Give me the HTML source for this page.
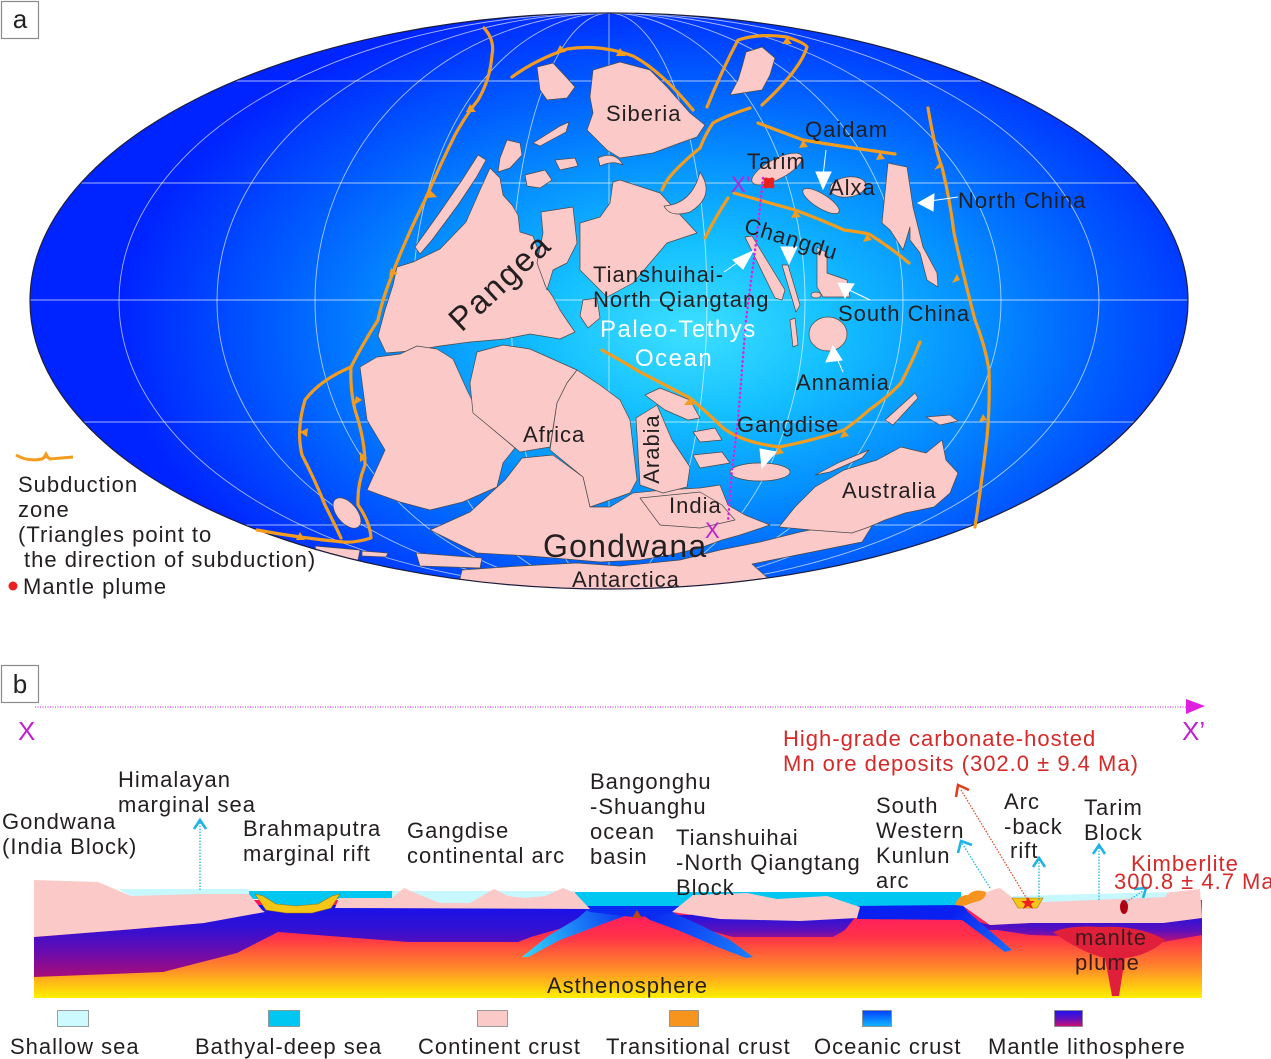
<!DOCTYPE html>
<html><head><meta charset="utf-8"><style>
html,body{margin:0;padding:0;background:#fff;}
svg{display:block;}
text{font-family:"Liberation Sans",Arial,sans-serif;}
</style></head><body>
<svg width="1271" height="1059" viewBox="0 0 1271 1059" xmlns="http://www.w3.org/2000/svg">
<defs>
<radialGradient id="ocean" gradientUnits="userSpaceOnUse" cx="690" cy="330" r="570" gradientTransform="translate(690,330) scale(1,0.6) translate(-690,-330)">
<stop offset="0" stop-color="#3ee0ff"/><stop offset="0.25" stop-color="#14c0ff"/><stop offset="0.5" stop-color="#0590ff"/><stop offset="0.75" stop-color="#0058ff"/><stop offset="1" stop-color="#0024ff"/>
</radialGradient>
<clipPath id="ell"><ellipse cx="609" cy="301" rx="579" ry="288"/></clipPath>
<linearGradient id="asth" gradientUnits="userSpaceOnUse" x1="0" y1="905" x2="0" y2="998">
<stop offset="0" stop-color="#ff1466"/><stop offset="0.35" stop-color="#ff3348"/><stop offset="0.68" stop-color="#ff8a2a"/><stop offset="1" stop-color="#fff000"/>
</linearGradient>
<linearGradient id="lith" gradientUnits="userSpaceOnUse" x1="0" y1="906" x2="0" y2="977">
<stop offset="0" stop-color="#1812ea"/><stop offset="0.3" stop-color="#3010d4"/><stop offset="0.65" stop-color="#6a0cae"/><stop offset="1" stop-color="#a80c78"/>
</linearGradient>
<linearGradient id="lith2" gradientUnits="userSpaceOnUse" x1="0" y1="915" x2="0" y2="942">
<stop offset="0" stop-color="#2212e0"/><stop offset="0.6" stop-color="#6010b8"/><stop offset="1" stop-color="#c01070"/>
</linearGradient>
<linearGradient id="slabL" gradientUnits="userSpaceOnUse" x1="630" y1="912" x2="523" y2="957">
<stop offset="0" stop-color="#0a30f0"/><stop offset="1" stop-color="#30d8ff"/>
</linearGradient>
<linearGradient id="slabR" gradientUnits="userSpaceOnUse" x1="650" y1="912" x2="752" y2="957">
<stop offset="0" stop-color="#0a28f0"/><stop offset="1" stop-color="#1a80ff"/>
</linearGradient>
<linearGradient id="slabK" gradientUnits="userSpaceOnUse" x1="960" y1="905" x2="1012" y2="950">
<stop offset="0" stop-color="#0a20f0"/><stop offset="1" stop-color="#1a6cff"/>
</linearGradient>
<linearGradient id="legOc" x1="0" y1="0" x2="0" y2="1"><stop offset="0" stop-color="#0040ff"/><stop offset="1" stop-color="#10b8ff"/></linearGradient>
<linearGradient id="legML" x1="0" y1="0" x2="0" y2="1"><stop offset="0" stop-color="#2010f0"/><stop offset="0.5" stop-color="#6010c0"/><stop offset="1" stop-color="#d01070"/></linearGradient>
</defs>

<!-- PANEL A -->
<rect x="1.5" y="1.5" width="37" height="37" fill="#fff" stroke="#8a8a8a" stroke-width="1.2"/>
<text x="20" y="28" font-size="26" text-anchor="middle" fill="#222">a</text>

<ellipse cx="609" cy="301" rx="579" ry="288" fill="url(#ocean)"/>
<g clip-path="url(#ell)" fill="none" stroke="#ffffff" stroke-opacity="0.65" stroke-width="0.9">
<line x1="0" y1="81" x2="1271" y2="81"/>
<line x1="0" y1="183" x2="1271" y2="183"/>
<line x1="0" y1="300" x2="1271" y2="300"/>
<line x1="0" y1="422" x2="1271" y2="422"/>
<line x1="0" y1="525" x2="1271" y2="525"/>
<line x1="609" y1="0" x2="609" y2="600"/>
<ellipse cx="609" cy="301" rx="98" ry="288"/>
<ellipse cx="609" cy="301" rx="196" ry="288"/>
<ellipse cx="609" cy="301" rx="294" ry="288"/>
<ellipse cx="609" cy="301" rx="392" ry="288"/>
<ellipse cx="609" cy="301" rx="490" ry="288"/>
</g>

<g clip-path="url(#ell)" fill="#fac9c8" stroke="#4a4a4a" stroke-width="0.7" stroke-linejoin="round">
<polygon points="490,168 500,178 503,195 512,205 518,215 520,232 533,236 538,250 540,268 545,285 553,297 560,310 568,322 575,332 560,339 530,334 505,339 470,342 440,346 410,351 386,353 378,336 385,310 393,285 397,267 413,262 440,249 466,222 480,190"/>
<polygon points="478,155 486,160 476,178 458,205 432,240 420,254 415,247 440,212 462,180"/>
<polygon points="507,140 520,143 522,155 510,168 498,172 500,158"/>
<polygon points="541,212 573,207 577,243 567,263 553,270 547,290 537,263 543,233"/>
<polygon points="613,182 620,180 660,193 697,233 667,243 650,263 633,283 607,297 593,283 580,270 580,223 600,217 610,203"/>
<polygon points="525,175 545,170 552,180 540,188 527,186"/>
<polygon points="555,160 575,158 578,166 560,170"/>
<polygon points="583,300 597,298 600,318 588,328 580,316"/>
<polygon points="360,367 377,357 400,354 417,346 437,349 453,359 467,390 477,410 490,427 515,448 503,463 497,487 463,502 430,510 400,502 367,490 385,450 367,420"/>
<polygon points="470,383 477,352 503,345 530,349 577,370 567,383 557,403 550,447 520,452 490,427 473,413"/>
<polygon points="577,370 600,385 620,400 630,420 637,480 630,493 590,507 583,477 550,450 557,403 567,383"/>
<polygon points="470,512 505,480 522,458 553,455 583,477 590,507 610,507 633,493 663,490 700,488 720,485 728,505 745,515 770,525 740,535 722,540 700,548 670,555 640,560 600,562 577,560 530,556 477,553 450,540 430,530"/>
<polygon points="636,418 657,405 672,440 690,467 687,487 663,493 640,485"/>
<polygon points="645,395 660,388 690,400 700,418 688,420 665,410"/>
<polygon points="693,432 715,428 722,440 700,442"/>
<polygon points="693,455 722,452 730,463 700,468"/>
<polygon points="462,570 520,566 577,563 620,566 680,560 720,550 760,542 800,532 840,524 872,526 862,542 822,550 782,558 752,564 770,580 780,600 455,600"/>
<polygon points="315,546 360,550 358,560 318,560"/>
<polygon points="362,551 388,553 386,557 362,556"/>
<polygon points="416,553 482,558 480,568 420,566"/>
<ellipse cx="347" cy="513" rx="18" ry="10" transform="rotate(50 347 513)"/>
<polygon points="593,70 620,62 650,70 667,87 690,113 705,125 697,137 680,143 653,153 620,158 607,150 587,130 593,113 590,97"/>
<polygon points="537,67 553,63 567,78 575,87 567,98 547,100 540,90"/>
<polygon points="533,143 560,126 569,122 566,132 540,146"/>
<polygon points="746,52 762,47 775,58 770,75 762,90 730,95 738,80 742,67"/>
<path d="M700,172 Q716,196 690,212 Q670,218 664,206 Q692,204 700,172 Z"/>
<path d="M598,158 Q615,150 623,165 Q612,160 600,166 Z"/>
<ellipse cx="777" cy="169" rx="28" ry="10" transform="rotate(-28 777 169)"/>
<ellipse cx="821" cy="201" rx="21" ry="7" transform="rotate(32 821 201)"/>
<ellipse cx="848" cy="187" rx="18" ry="10" transform="rotate(-8 848 187)"/>
<polygon points="888,163 907,167 913,207 923,247 937,273 938,287 927,280 920,253 910,240 910,227 903,250 890,230 882,223"/>
<polygon points="745,237 752,236 785,290 782,300 775,298"/>
<polygon points="782,265 788,265 800,305 796,312"/>
<polygon points="790,320 795,318 798,345 793,347"/>
<polygon points="817,247 827,253 827,273 847,280 850,297 823,297 817,287"/>
<ellipse cx="816" cy="295" rx="5" ry="3"/>
<ellipse cx="828" cy="334" rx="19" ry="17"/>
<ellipse cx="760" cy="472" rx="30" ry="9"/>
<polygon points="779,527 795,507 815,487 844,470 877,460 901,447 926,453 942,440 946,460 958,473 950,493 934,507 905,513 885,520 869,527 852,533 811,530"/>
<polygon points="815,475 840,462 869,450 862,458 830,472"/>
<polygon points="885,420 915,393 918,398 893,425"/>
<polygon points="926,417 950,415 958,421 940,425"/>
<polygon points="640,498 700,492 722,505 735,520 700,528 660,525"/>
</g>
<ellipse cx="609" cy="301" rx="579" ry="288" fill="none" stroke="#1c1c3c" stroke-width="1.2"/>

<g fill="none" stroke="#f39c1e" stroke-width="3.2" stroke-linecap="round" stroke-linejoin="round">
<path d="M484,28 Q495,40 492,55 Q490,80 478,100 Q466,115 455,135 Q440,165 425,200 Q405,240 392,275 Q382,300 378,320 Q362,345 351,367 Q350,390 355,410 Q365,440 365,465 Q357,485 358,505 Q370,522 371,538 Q355,543 343,542 Q300,538 257,530"/>
<path d="M351,367 Q320,380 305,400 Q296,430 302,455 Q315,480 325,505 Q335,525 341,538"/>
<path d="M512,77 Q535,60 567,49 Q600,44 633,56 Q660,70 693,110"/>
<path d="M707,107 Q722,70 738,40 Q760,33 787,37 Q805,43 807,47 Q800,70 762,105"/>
<path d="M750,108 Q725,116 713,123 Q705,135 700,148 Q685,160 673,173 Q665,182 662,190"/>
<path d="M758,123 Q790,135 803,140 Q832,145 895,154"/>
<path d="M734,193 Q770,203 795,210 Q822,220 844,230 Q860,232 869,234 Q890,247 909,263"/>
<path d="M728,198 Q715,218 705,238"/>
<path d="M928,108 Q935,150 942,167 Q950,200 954,233 Q962,270 975,320 Q985,345 989,370 Q990,405 987,437 Q982,480 975,527"/>
<path d="M602,350 Q620,360 640,372 Q665,385 690,398 Q710,415 722,427 Q740,442 779,447 Q815,440 844,430 Q858,420 869,410 Q890,395 901,383 Q912,362 920,342"/>
</g>
<g fill="#f39c1e">
<polygon points="470,104 476,112 466,112"/><polygon points="430,190 437,197 427,198"/><polygon points="391,268 398,274 389,276"/>
<polygon points="362,400 354,405 356,396"/><polygon points="367,458 360,462 360,452"/><polygon points="300,432 308,428 307,437"/>
<polygon points="560,45 566,52 556,53"/><polygon points="620,48 626,56 616,56"/><polygon points="787,37 792,44 782,44"/>
<polygon points="803,140 799,148 808,147"/><polygon points="880,152 876,160 885,159"/><polygon points="795,210 791,218 801,217"/>
<polygon points="867,234 863,242 872,240"/><polygon points="942,167 934,170 940,162"/><polygon points="960,280 952,283 957,274"/>
<polygon points="987,420 979,422 983,414"/><polygon points="690,398 684,405 694,405"/><polygon points="779,447 775,455 784,453"/>
<polygon points="844,430 840,438 849,436"/><polygon points="300,532 305,540 296,540"/>
</g>

<g stroke="#ffffff" stroke-width="1" fill="#ffffff">
<line x1="826" y1="150" x2="823" y2="176"/><polygon points="816,172 831,172 823,189"/>
<line x1="958" y1="197" x2="930" y2="201"/><polygon points="918,203 934,194 933,211"/>
<line x1="724" y1="272" x2="744" y2="258"/><polygon points="753,251 733,260 743,269"/>
<polygon points="781,247 797,247 789,264"/>
<line x1="870" y1="300" x2="845" y2="288"/><polygon points="838,283 854,284 845,298"/>
<line x1="843" y1="372" x2="834" y2="352"/><polygon points="833,346 826,362 842,360"/>
<polygon points="760,449 776,452 762,468"/>
</g>

<path d="M763,178 L757,235 L746,320 L738,420 L732,470 L728,522" fill="none" stroke="#e020e0" stroke-width="2.4" stroke-dasharray="0.5 4" stroke-linecap="round"/>
<circle cx="769" cy="183" r="5" fill="#e8201e"/>
<circle cx="766" cy="180" r="2.5" fill="#e8201e"/><circle cx="772" cy="180" r="2.5" fill="#e8201e"/><circle cx="766" cy="186" r="2.5" fill="#e8201e"/><circle cx="772" cy="186" r="2.5" fill="#e8201e"/>
<text x="731" y="192" font-size="22" fill="#c020d0">X’</text>
<text x="705" y="538" font-size="22" fill="#c020d0">X</text>

<g font-size="22" fill="#231f20" letter-spacing="1">
<text x="606" y="121">Siberia</text>
<text x="805" y="137">Qaidam</text>
<text x="747" y="169">Tarim</text>
<text x="829" y="195">Alxa</text>
<text x="958" y="208">North China</text>
<text x="743" y="232" transform="rotate(17 743 232)">Changdu</text>
<text x="593" y="282">Tianshuihai-</text>
<text x="593" y="307">North Qiangtang</text>
<text x="838" y="321">South China</text>
<text x="796" y="390">Annamia</text>
<text x="737" y="432">Gangdise</text>
<text x="523" y="442">Africa</text>
<text x="651" y="457" text-anchor="middle" transform="rotate(-90 651 449)">Arabia</text>
<text x="669" y="513">India</text>
<text x="572" y="587">Antarctica</text>
<text x="842" y="498">Australia</text>
</g>
<text x="500" y="293" font-size="33" fill="#231f20" letter-spacing="2" text-anchor="middle" transform="rotate(-43 500 282)">Pangea</text>
<text x="543" y="557" font-size="32" fill="#231f20" letter-spacing="1.2">Gondwana</text>
<text x="600" y="337" font-size="24" fill="#ffffff" letter-spacing="1.5">Paleo-Tethys</text>
<text x="635" y="366" font-size="24" fill="#ffffff" letter-spacing="1.5">Ocean</text>

<path d="M16,455 Q28,462 42,459 L46,456 L50,459 Q62,458 73,457" fill="none" stroke="#f39c1e" stroke-width="3"/>
<polygon points="42,458 46,451 50,458" fill="#f39c1e"/>
<g font-size="22" fill="#231f20" letter-spacing="1">
<text x="18" y="492">Subduction</text>
<text x="18" y="517">zone</text>
<text x="18" y="542">(Triangles point to</text>
<text x="24" y="567">the direction of subduction)</text>
<text x="23" y="594">Mantle plume</text>
</g>
<circle cx="13" cy="586" r="4.5" fill="#e8201e"/>

<!-- PANEL B -->
<rect x="1.5" y="665.5" width="37" height="37" fill="#fff" stroke="#8a8a8a" stroke-width="1.2"/>
<text x="20" y="693" font-size="26" text-anchor="middle" fill="#222">b</text>
<line x1="35" y1="707" x2="1188" y2="707" stroke="#e040e0" stroke-width="1.2" stroke-dasharray="1 1.5"/>
<polygon points="1186,699 1205,706 1186,714" fill="#e020e0"/>
<text x="18" y="740" font-size="26" fill="#c020d0">X</text>
<text x="1182" y="740" font-size="26" fill="#c020d0">X’</text>

<rect x="34" y="900" width="1168" height="98" fill="url(#asth)"/>
<polygon points="34,937 122,930 204,923 252,905 590,905 600,912 590,920 531,937 518,942 408,942 278,932 237,953 163,972 34,977" fill="url(#lith)"/>
<polygon points="672,915 857,915 845,930 833,937 733,937 700,928" fill="url(#lith2)"/>
<polygon points="963,918 990,925 1030,923 1097,923 1163,923 1202,918 1202,935 1163,942 1097,937 1030,935 997,930 975,930" fill="url(#lith2)"/>
<path d="M1053,932 Q1070,925 1100,927 Q1140,925 1165,940 Q1150,955 1125,958 L1119,996 L1112,996 L1105,958 Q1080,952 1053,932 Z" fill="#e0203a"/>
<rect x="575" y="892" width="386" height="16" fill="#00c6f2"/>
<rect x="249" y="891" width="143" height="8" fill="#00c6f2"/>
<polygon points="118,889 249,889 249,894 131,896" fill="#c8f8ff"/>
<rect x="392" y="891" width="183" height="12" fill="#c8f8ff"/>
<polygon points="588,909 633,913 600,925 560,940 528,957 522,957 548,936 578,918" fill="url(#slabL)"/>
<polygon points="640,913 672,912 700,925 730,940 753,957 746,958 715,946 680,931 650,920" fill="url(#slabR)"/>
<polygon points="578,906 690,906 672,913 640,917 633,917 590,912" fill="#0a2cf0"/>
<polygon points="632,918 637,910 642,918" fill="#c04410"/>
<polygon points="855,906 963,905 968,912 1012,950 1005,952 962,920 857,919" fill="url(#slabK)"/>
<polygon points="34,880 98,882 131,896 200,894 249,894 262,910 265,912 204,923 122,930 34,937" fill="#fac9c8"/>
<polygon points="339,898 392,898 404,888 420,895 440,903 470,903 494,889 508,896 525,898 545,896 563,888 575,893 590,909 335,908" fill="#fac9c8"/>
<polygon points="672,912 693,895 747,893 777,899 827,896 860,907 857,918 800,921 720,919" fill="#fac9c8"/>
<polygon points="963,906 975,898 992,890 1000,888 1013,898 1043,899 1100,896 1163,893 1200,889 1202,918 1163,923 1097,923 1030,923 990,925" fill="#fac9c8"/>
<polygon points="1012,896 1168,892 1165,897 1045,902 1013,899" fill="#c8f8ff"/>
<path d="M955,905 Q958,895 968,895 Q975,888 986,892 Q986,900 975,902 L963,906 Z" fill="#f7941d"/>
<polygon points="256,894 339,894 331,906 298,908 267,906" fill="#00c6f2"/>
<path d="M255,894 L266,910 L286,913 L312,913 L331,908 L340,894 L332,896 L318,904 L296,906 L276,904 L263,896 Z" fill="#f5c518" stroke="#a07800" stroke-width="0.6"/>
<path d="M1012,898 L1043,898 L1037,908 L1018,908 Z" fill="#f5c518" stroke="#a07800" stroke-width="0.6"/>
<polygon points="1028,897 1030,901 1035,901 1031,904 1033,909 1028,906 1023,909 1025,904 1021,901 1026,901" fill="#f02020"/>
<ellipse cx="1124" cy="907" rx="4" ry="7" fill="#b00010"/>
<g fill="none" stroke="#20b4e4" stroke-width="1.3" stroke-dasharray="1.5 1.5">
<line x1="200" y1="890" x2="200" y2="822"/>
<line x1="990" y1="888" x2="962" y2="843"/>
<line x1="1039" y1="900" x2="1039" y2="860"/>
<line x1="1099" y1="900" x2="1099" y2="847"/>
<line x1="1126" y1="902" x2="1143" y2="891"/>
</g>
<g fill="none" stroke="#20b4e4" stroke-width="2.6">
<polyline points="194,829 200,820 206,829"/>
<polyline points="958,853 961,841 972,845"/>
<polyline points="1033,867 1039,858 1045,867"/>
<polyline points="1093,854 1099,845 1105,854"/>
<polyline points="1134,889 1146,888 1143,898"/>
</g>
<line x1="1027" y1="899" x2="961" y2="790" stroke="#e04020" stroke-width="1.2" stroke-dasharray="1.5 1.5"/>
<polyline points="956,797 958,785 969,790" fill="none" stroke="#e04020" stroke-width="2.6"/>

<g font-size="22" fill="#231f20" letter-spacing="1">
<text x="118" y="787">Himalayan</text>
<text x="118" y="812">marginal sea</text>
<text x="2" y="829">Gondwana</text>
<text x="2" y="854">(India Block)</text>
<text x="243" y="836">Brahmaputra</text>
<text x="243" y="861">marginal rift</text>
<text x="407" y="838">Gangdise</text>
<text x="407" y="863">continental arc</text>
<text x="590" y="789">Bangonghu</text>
<text x="590" y="814">-Shuanghu</text>
<text x="590" y="839">ocean</text>
<text x="590" y="864">basin</text>
<text x="676" y="845">Tianshuihai</text>
<text x="676" y="870">-North Qiangtang</text>
<text x="676" y="895">Block</text>
<text x="876" y="813">South</text>
<text x="876" y="838">Western</text>
<text x="876" y="863">Kunlun</text>
<text x="876" y="888">arc</text>
<text x="1004" y="809">Arc</text>
<text x="1004" y="834">-back</text>
<text x="1010" y="858">rift</text>
<text x="1084" y="815">Tarim</text>
<text x="1084" y="840">Block</text>
<text x="1075" y="945" fill="#3a1a1a">manlte</text>
<text x="1075" y="970" fill="#3a1a1a">plume</text>
<text x="547" y="993">Asthenosphere</text>
</g>
<g font-size="22" fill="#d42a2a" letter-spacing="1">
<text x="783" y="746">High-grade carbonate-hosted</text>
<text x="783" y="771">Mn ore deposits (302.0 ± 9.4 Ma)</text>
<text x="1131" y="871">Kimberlite</text>
<text x="1114" y="889">300.8 ± 4.7 Ma</text>
</g>

<rect x="57.5" y="1010.5" width="31" height="16" fill="#ccfaff" stroke="#888" stroke-width="0.8"/>
<rect x="268.5" y="1010.5" width="31" height="16" fill="#00c6f2" stroke="#888" stroke-width="0.8"/>
<rect x="477.5" y="1010.5" width="30" height="16" fill="#fac9c8" stroke="#888" stroke-width="0.8"/>
<rect x="669.5" y="1010.5" width="29" height="16" fill="#f7941d" stroke="#888" stroke-width="0.8"/>
<rect x="862.5" y="1010.5" width="29" height="16" fill="url(#legOc)" stroke="#888" stroke-width="0.8"/>
<rect x="1054.5" y="1010.5" width="28" height="16" fill="url(#legML)" stroke="#888" stroke-width="0.8"/>
<g font-size="22" fill="#231f20" letter-spacing="1">
<text x="10" y="1054">Shallow sea</text>
<text x="195" y="1054">Bathyal-deep sea</text>
<text x="418" y="1054">Continent crust</text>
<text x="606" y="1054">Transitional crust</text>
<text x="814" y="1054">Oceanic crust</text>
<text x="988" y="1054">Mantle lithosphere</text>
</g>
</svg>
</body></html>
